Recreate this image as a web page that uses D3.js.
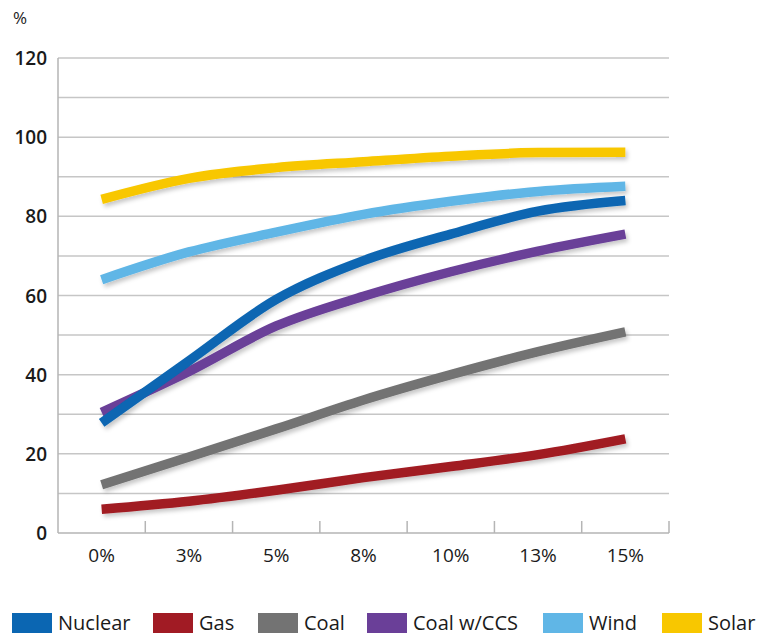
<!DOCTYPE html>
<html lang="en">
<head>
<meta charset="utf-8">
<script src="https://d3js.org/d3.v7.min.js"></script>
<style>
  body { margin: 0; background: #fff; }
  svg text { font-family: "Open Sans", sans-serif; fill: #1a1a1a; }
</style>
</head>
<body>
<svg width="757" height="637"></svg>
<script>
// categories (x axis) and series values
var categories = ["0%", "3%", "5%", "8%", "10%", "13%", "15%"];
var seriesNames = ["Nuclear", "Gas", "Coal", "Coal w/CCS", "Wind", "Solar"];
var nuclear  = [27.8, 43.5, 59, 68.8, 75.5, 81.3, 84];
var gas      = [6, 8, 10.8, 14, 16.8, 19.8, 23.8];
var coal     = [12.2, 19.2, 26.3, 33.6, 40, 45.8, 50.8];
var coalCCS  = [30.5, 40.8, 52.3, 59.8, 66, 71.2, 75.5];
var wind     = [64, 71, 76, 80.5, 83.8, 86.3, 87.6];
var solar    = [84.3, 89.6, 92.3, 93.8, 95.2, 96.1, 96.2];
var yTicks   = [0, 20, 40, 60, 80, 100, 120];
var colors   = ["#0b66b2", "#a11b24", "#737373", "#6a3f98", "#60b6e6", "#f8c700"];

var svg = d3.select("svg");
// plot edges (top can't be used as a name, it is window.top)
var plotL = 58, plotR = 669, plotT = 58, plotB = 533;

var x = d3.scaleBand().domain(categories).range([plotL, plotR]);
var y = d3.scaleLinear().domain([0, 120]).range([plotB, plotT]);

// soft shadow under the lines
var defs = svg.append("defs");
var f = defs.append("filter").attr("id", "shadow")
    .attr("x", "-10%").attr("y", "-10%").attr("width", "120%").attr("height", "130%");
f.append("feDropShadow").attr("dx", 2).attr("dy", 3).attr("stdDeviation", 2)
    .attr("flood-color", "#000").attr("flood-opacity", 0.22);

// gridlines every 10
svg.append("g")
    .selectAll("line").data(d3.range(10, 121, 10)).enter().append("line")
    .attr("x1", plotL).attr("x2", plotR)
    .attr("y1", function (d) { return y(d); })
    .attr("y2", function (d) { return y(d); })
    .attr("stroke", "#c6c6c6").attr("stroke-width", 1.5);

// left axis line
svg.append("line")
    .attr("x1", plotL).attr("x2", plotL).attr("y1", plotT).attr("y2", plotB)
    .attr("stroke", "#b5b5b5").attr("stroke-width", 1.5);

// bottom axis, ticks point up at band edges
var xAxis = svg.append("g").attr("transform", "translate(0," + plotB + ")");
xAxis.append("line").attr("x1", plotL).attr("x2", plotR)
    .attr("stroke", "#b5b5b5").attr("stroke-width", 1.5);
xAxis.selectAll("line.tick").data(categories).enter().append("line")
    .attr("class", "tick")
    .attr("x1", function (d) { return x(d) + x.bandwidth(); })
    .attr("x2", function (d) { return x(d) + x.bandwidth(); })
    .attr("y1", 0).attr("y2", -12)
    .attr("stroke", "#b5b5b5").attr("stroke-width", 1.5);
xAxis.selectAll("text").data(categories).enter().append("text")
    .attr("x", function (d) { return x(d) + x.bandwidth() / 2; })
    .attr("y", 29)
    .attr("text-anchor", "middle")
    .style("font-size", "19px")
    .text(function (d) { return d; });

// y tick labels
svg.append("g").selectAll("text").data(yTicks).enter().append("text")
    .attr("x", 47)
    .attr("y", function (d) { return y(d) + 7; })
    .attr("text-anchor", "end")
    .style("font-size", "19px").style("font-weight", "600")
    .text(function (d) { return d; });

svg.append("text").attr("x", 13).attr("y", 24)
    .style("font-size", "17px").text("%");

// lines
var allSeries = [nuclear, gas, coal, coalCCS, wind, solar];
var line = d3.line()
    .x(function (d, i) { return x(categories[i]) + x.bandwidth() / 2; })
    .y(function (d) { return y(d); })
    .curve(d3.curveMonotoneX);

var drawOrder = [1, 2, 3, 0, 4, 5];
svg.append("g").attr("filter", "url(#shadow)")
    .selectAll("path").data(drawOrder).enter().append("path")
    .attr("d", function (k) { return line(allSeries[k]); })
    .attr("fill", "none")
    .attr("stroke", function (k) { return colors[k]; })
    .attr("stroke-width", 9.5);

// legend
var legendX = [12, 153, 258, 367, 543, 662];
var lg = svg.append("g").selectAll("g").data(seriesNames).enter().append("g")
    .attr("transform", function (d, i) { return "translate(" + legendX[i] + ",613)"; });
lg.append("rect").attr("width", 40).attr("height", 20)
    .attr("fill", function (d, i) { return colors[i]; });
lg.append("text").attr("x", 46).attr("y", 17)
    .style("font-size", "20px")
    .text(function (d) { return d; });
</script>
</body>
</html>
